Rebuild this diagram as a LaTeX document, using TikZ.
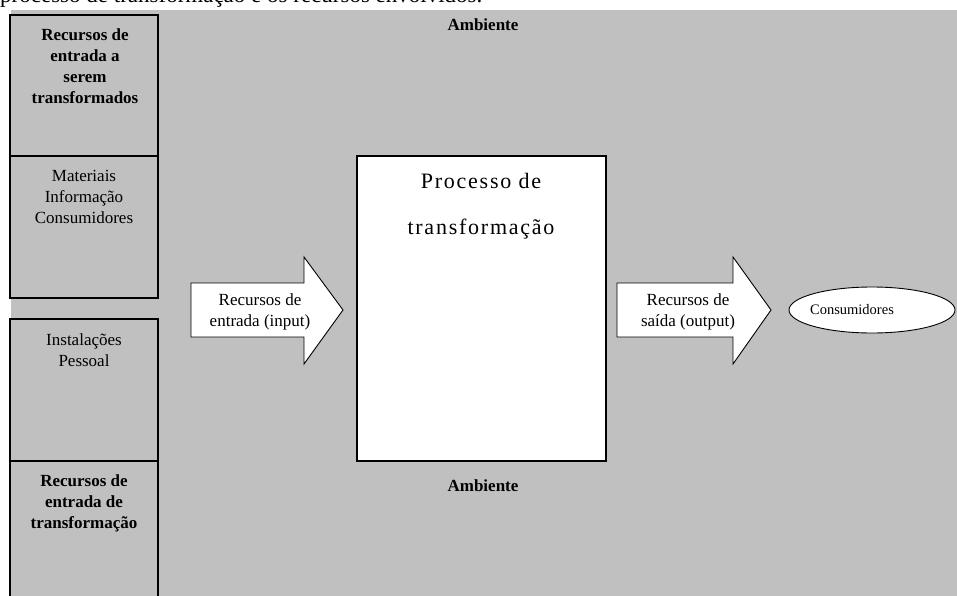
\documentclass[tikz,border=0pt]{standalone}
\usepackage{fontspec}
\setmainfont{Liberation Serif}
\usetikzlibrary{shapes.geometric}
\definecolor{bggray}{HTML}{C0C0C0}
\begin{document}
\begin{tikzpicture}[x=1pt,y=-1pt,
  lbl/.style={align=center,inner sep=0pt,font=\fontsize{17}{21.3}\selectfont},
  blbl/.style={align=center,inner sep=0pt,font=\fontsize{17}{21}\selectfont\bfseries},
  panel/.style={draw=black,line width=1.4pt,fill=bggray,minimum width=148pt,inner sep=0pt},
  bigarrow/.style={draw=black,line width=0.9pt,fill=white,line join=miter},
  procbox/.style={draw=black,line width=1.4pt,fill=white,minimum width=249pt,minimum height=305pt,inner sep=0pt}]
\useasboundingbox (0,0) rectangle (957,596);
\clip (0,0) rectangle (957,596);
\fill[bggray] (11,10) rectangle (957,596);
\node[anchor=base west,inner sep=0pt,font=\fontsize{23}{27}\selectfont] (caption) at (0,3) {processo de transformação e os recursos envolvidos.};
% left panels
\node[panel,minimum height=141pt] (p1) at (84,85.5) {};
\node[panel,minimum height=142pt] (p2) at (84,227) {};
\node[panel,minimum height=142pt] (p3) at (84,390) {};
\node[panel,minimum height=150pt] (p4) at (84,536) {};
\node[blbl] (t1) at (85,66) {Recursos de\\entrada a\\serem\\transformados};
\node[lbl] (t2) at (84,197) {Materiais\\Informação\\Consumidores};
\node[lbl] (t3) at (84,350) {Instalações\\Pessoal};
\node[blbl] (t4) at (84,503) {Recursos de\\entrada de\\transformação};
% ambiente
\node[blbl] (amb1) at (483,25) {Ambiente};
\node[blbl] (amb2) at (483,486) {Ambiente};
% process
\node[procbox] (proc) at (481.5,308.5) {};
\node[align=center,inner sep=0pt,font=\fontsize{22}{46}\selectfont\addfontfeature{LetterSpace=8}] (proct) at (481,206) {Processo de\\transformação};
% arrows
\draw[bigarrow] (191,283) -- (304,283) -- (304,257) -- (343,310) -- (304,364) -- (304,337) -- (191,337) -- cycle;
\node[lbl] (ain) at (260,312) {Recursos de\\entrada (input)};
\draw[bigarrow] (617,283) -- (733,283) -- (733,257) -- (771,310) -- (733,364) -- (733,337) -- (617,337) -- cycle;
\node[lbl] (aout) at (688,312) {Recursos de\\saída (output)};
% consumers
\node[draw=black,line width=0.9pt,fill=white,ellipse,minimum width=166pt,minimum height=46pt,inner sep=0pt] (cons) at (872,310) {};
\node[inner sep=0pt,font=\fontsize{14.5}{17}\selectfont] (const) at (852,310) {Consumidores};
\end{tikzpicture}
\end{document}
